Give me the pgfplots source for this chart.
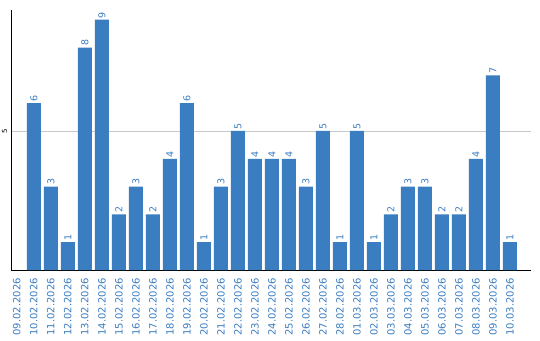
\documentclass[border=0pt]{standalone}
\usepackage{fontspec}
\setmainfont{DejaVu Sans}
\usepackage{pgfplots}
\pgfplotsset{compat=1.18}
\definecolor{barblue}{RGB}{59,125,193}
\definecolor{gridgray}{RGB}{200,200,200}
\begin{document}
\begin{tikzpicture}[x=1pt,y=1pt]
\useasboundingbox (0,0) rectangle (540,340);
\begin{axis}[
  at={(11pt,70pt)}, anchor=south west,
  scale only axis, width=520pt, height=260pt,
  xmin=-0.344, xmax=30.24, ymin=0, ymax=9.35,
  axis x line=bottom, axis y line=left,
  axis line style={-, black, line width=0.8pt},
  ybar, bar width=14pt,
  xtick={0,...,29},
  xticklabels={09.02.2026,10.02.2026,11.02.2026,12.02.2026,13.02.2026,14.02.2026,15.02.2026,16.02.2026,17.02.2026,18.02.2026,19.02.2026,20.02.2026,21.02.2026,22.02.2026,23.02.2026,24.02.2026,25.02.2026,26.02.2026,27.02.2026,28.02.2026,01.03.2026,02.03.2026,03.03.2026,04.03.2026,05.03.2026,06.03.2026,07.03.2026,08.03.2026,09.03.2026,10.03.2026},
  major tick length=0pt,
  xticklabel style={rotate=90, anchor=east, inner sep=0pt, font=\fontsize{10}{10}\selectfont, text=barblue},
  xticklabel shift=8pt,
  ytick={5}, ymajorgrids, grid style={gridgray, line width=0.8pt},
  yticklabel style={rotate=90, anchor=south, inner sep=0pt, font=\fontsize{7}{7}\selectfont, text=black},
  yticklabel shift=3.5pt,
  /pgf/number format/assume math mode=true,
  nodes near coords,
  every node near coord/.append style={rotate=90, anchor=west, inner sep=1.5pt, font=\fontsize{9.5}{9.5}\selectfont, text=barblue},
]
\addplot[fill=barblue, draw=none] coordinates {
(1,6)(2,3)(3,1)(4,8)(5,9)(6,2)(7,3)(8,2)(9,4)(10,6)(11,1)(12,3)(13,5)(14,4)(15,4)(16,4)(17,3)(18,5)(19,1)(20,5)(21,1)(22,2)(23,3)(24,3)(25,2)(26,2)(27,4)(28,7)(29,1)
};
\end{axis}
\end{tikzpicture}
\end{document}
